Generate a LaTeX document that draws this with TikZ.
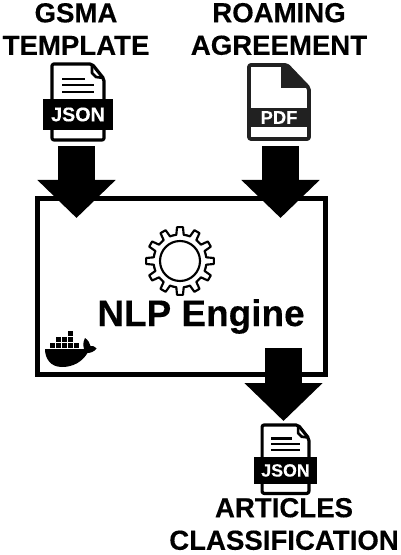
\documentclass[tikz,border=0pt]{standalone}
\usepackage{fontspec}
\setmainfont{Liberation Sans}[BoldFeatures={FakeBold=0.25}]
\usetikzlibrary{arrows.meta,calc}
\definecolor{pdfdark}{gray}{0.13}
\tikzset{
  x=0.75pt,y=-0.75pt,
  lbl/.style={font=\fontsize{20.7pt}{24.4pt}\selectfont\bfseries,align=center,inner sep=0pt,text=black},
  bigarrow/.style={line width=27.75pt,-{Triangle[width=57pt,length=28.5pt]}},
  engine/.style={draw=black,line width=3.8pt,fill=white,inner sep=0pt,outer sep=0pt},
}
\newcommand{\jsonicon}[3]{%
  \begin{scope}[shift={(#1,#2)},scale=#3,line join=round]
    \draw[line width=2.4pt,fill=white,rounded corners=1.5pt] (-26,0) -- (14,0) -- (26,15) -- (26,76) -- (-26,76) -- cycle;
    \draw[line width=2pt] (14,0) -- (14,9) -- (18,13) -- (26,14);
    \draw[line width=1.7pt] (-16,15) -- (7,15) (-16,21) -- (16,21) (-16,28) -- (16,28);
    \fill[black] (-35,35) rectangle (35,66);
    \node[text=white,font=\fontsize{14.8pt}{14.8pt}\selectfont\bfseries,inner sep=0pt,scale=#3] at (0,50.5) {JSON};
  \end{scope}}
\begin{document}
\begin{tikzpicture}
\useasboundingbox (0,0) rectangle (400,555);
\node[engine,minimum width=216pt,minimum height=132pt,anchor=north west] (box) at (37.5,198.5) {};
\node[lbl] (la) at (76,29) {GSMA\\TEMPLATE};
\node[lbl] (lb) at (279,29) {ROAMING\\AGREEMENT};
\node[lbl] (lc) at (284,524) {ARTICLES\\CLASSIFICATION};
\node[font=\fontsize{27.7pt}{30pt}\selectfont\bfseries,inner sep=0pt,anchor=base] (nlp) at (201,326) {NLP Engine};
% icons
\jsonicon{78}{64}{1}
\jsonicon{285.5}{425}{0.9}
\begin{scope}[line join=round]
  \draw[pdfdark,line width=2.8pt,fill=white,rounded corners=1.5pt] (249,65) -- (287,65) -- (309,88) -- (309,139) -- (249,139) -- cycle;
  \fill[pdfdark] (281,64) -- (288,64) -- (310,88) -- (281,88) -- cycle;
  \fill[pdfdark] (247,108) rectangle (311,127);
  \node[text=white,font=\fontsize{13.8pt}{13.8pt}\selectfont\bfseries,inner sep=0pt] (pdf) at (279,117.5) {PDF};
\end{scope}
% gear
\begin{scope}[shift={(180,261)},line width=1.6pt,line cap=round,line join=round]
  \foreach \a in {0,30,...,330}{
    \draw ({\a-15}:26.5) -- ({\a-8}:26.5) -- ({\a-5}:34) -- ({\a+5}:34) -- ({\a+8}:26.5) -- ({\a+15}:26.5);
  }
  \draw (0,0) circle (20);
\end{scope}
% docker whale
\begin{scope}[black]
  \fill (45,349) -- (84,349) .. controls (83,345) and (83,342) .. (85,338) .. controls (88,340) and (90,343) .. (90.5,346) .. controls (92,345.5) and (94,346) .. (96.5,348.5) .. controls (94,352) and (90,353) .. (87.5,353) .. controls (82,362) and (73,367) .. (62,367) .. controls (50,367) and (45,358) .. (45,349) -- cycle;
  \foreach \x/\y in {50/342.5,56/342.5,62/342.5,68/342.5,74/342.5,
                     56/336.8,62/336.8,68/336.8,
                     68/331}{
    \fill (\x,\y) rectangle ++(5.1,5.1);
  }
\end{scope}
% arrows
\coordinate (a1s) at (76.5,146);
\coordinate (a1e) at (76.5,218);
\coordinate (a2s) at (280.5,146);
\coordinate (a2e) at (280.5,218);
\coordinate (a3s) at (283.5,348);
\coordinate (a3e) at (283.5,421);
\draw[bigarrow] (a1s) -- (a1e);
\draw[bigarrow] (a2s) -- (a2e);
\draw[bigarrow] (a3s) -- (a3e);
\end{tikzpicture}
\end{document}
